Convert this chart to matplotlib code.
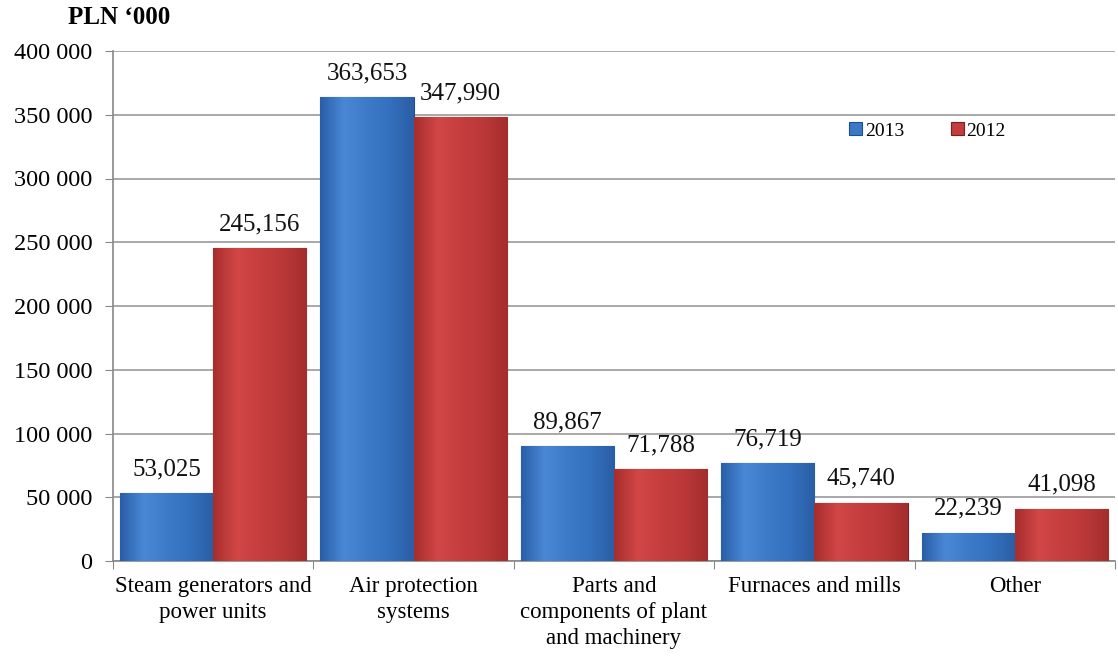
import matplotlib
matplotlib.use("Agg")
import matplotlib.pyplot as plt
import numpy as np
from matplotlib.colors import LinearSegmentedColormap

categories = ["Steam generators and\npower units", "Air protection\nsystems",
              "Parts and\ncomponents of plant\nand machinery", "Furnaces and mills", "Other"]
series_names = ["2013", "2012"]
values_2013 = [53025, 363653, 89867, 76719, 22239]
values_2012 = [245156, 347990, 71788, 45740, 41098]
yticks = [0, 50000, 100000, 150000, 200000, 250000, 300000, 350000, 400000]
ytick_labels = ["0", "50 000", "100 000", "150 000", "200 000", "250 000", "300 000", "350 000", "400 000"]

plt.rcParams['font.family'] = ['Liberation Serif', 'DejaVu Serif']

fig = plt.figure(figsize=(11.18, 6.58), dpi=100)
ax = fig.add_axes([113/1118, 1-561/658, 1002/1118, 510/658])

x = np.arange(len(categories))
w = 0.465
blue = "#3b78c6"
red = "#c43c3c"
b1 = ax.bar(x - w/2, values_2013, w, color=blue, edgecolor="#1f4f8a", linewidth=0.8, label=series_names[0], zorder=3)
b2 = ax.bar(x + w/2, values_2012, w, color=red, edgecolor="#7a1f1f", linewidth=0.8, label=series_names[1], zorder=3)

cm_b = LinearSegmentedColormap.from_list("b", ["#2a5fa8", "#4a88d6", "#3d7ac8", "#3370bd", "#2b5ea6"])
cm_r = LinearSegmentedColormap.from_list("r", ["#a82e2e", "#d24646", "#c63e3e", "#bb3838", "#a52d2d"])
grad = np.linspace(0, 1, 64).reshape(1, -1)
for bars, cm in ((b1, cm_b), (b2, cm_r)):
    for p in bars:
        bx, by = p.get_x(), p.get_y()
        bw, bh = p.get_width(), p.get_height()
        im = ax.imshow(grad, cmap=cm, aspect="auto", extent=[bx, bx + bw, by, by + bh], zorder=3.1, interpolation="bicubic")
        im.set_clip_path(p)

for bars, vals in ((b1, values_2013), (b2, values_2012)):
    for p, v in zip(bars, vals):
        ax.text(p.get_x() + p.get_width()/2, v + 14000, f"{v:,}", ha="center", va="baseline", fontsize=18, color="#111111")

ax.set_xlim(-0.5, len(categories) - 0.5)
ax.set_ylim(0, 400000)
ax.set_yticks(yticks)
ax.set_yticklabels(ytick_labels, fontsize=17.5)
ax.set_xticks(np.arange(len(categories) + 1) - 0.5, minor=False)
ax.set_xticklabels([])
ax.set_xticks(x, minor=True)
ax.set_xticklabels(categories, minor=True, fontsize=16.5, linespacing=1.3)
ax.tick_params(axis="x", which="minor", length=0, pad=11)
ax.tick_params(axis="x", which="major", length=6, color="#888888")
ax.tick_params(axis="y", length=6, color="#888888", pad=9)
ax.grid(axis="y", color="#999999", linewidth=1.2, zorder=0)
for s in ["top", "right"]:
    ax.spines[s].set_visible(False)
for s in ["left", "bottom"]:
    ax.spines[s].set_color("#888888")
    ax.spines[s].set_linewidth(1.2)

leg = ax.legend(loc="center", bbox_to_anchor=(0.813, 0.843), ncol=2, frameon=False, fontsize=14,
                handlelength=0.65, handleheight=0.65, columnspacing=2.4, handletextpad=0.15)

fig.text(68/1118, 1-18/658, "PLN \u2018000", fontsize=18, fontweight="bold", va="center", ha="left")

fig.savefig("out.png", dpi=100)
